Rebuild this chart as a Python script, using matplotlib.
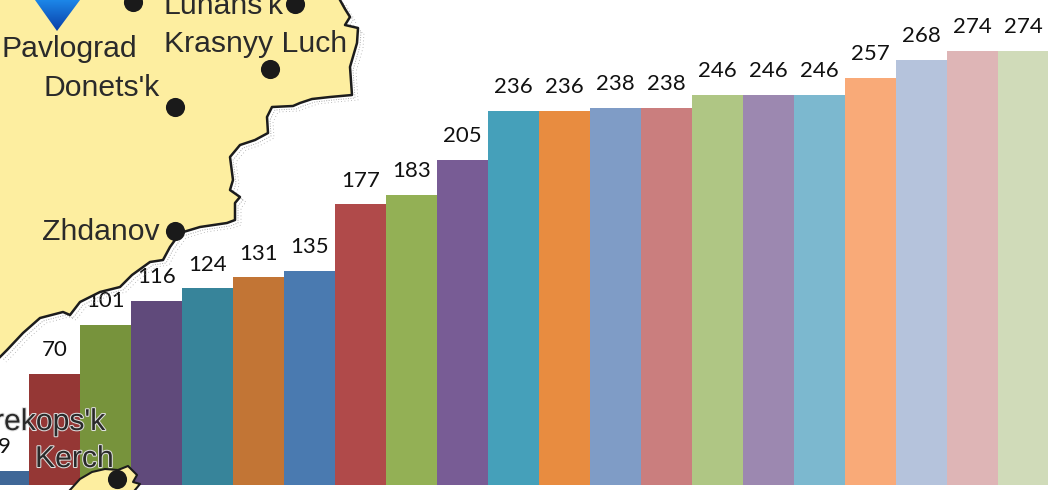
import matplotlib
matplotlib.use("Agg")
import matplotlib.pyplot as plt
import matplotlib.patheffects as pe
import numpy as np

# bar values, left to right
values = [9, 70, 101, 116, 124, 131, 135, 177, 183, 205, 236, 236, 238, 238,
          246, 246, 246, 257, 268, 274, 274]
colors = ["#3f6797", "#953735", "#77933c", "#604a7b", "#37849a", "#c27535", "#4a7ab0",
          "#b04a4a", "#93b055", "#785c95", "#45a0ba", "#e88c40", "#7f9cc6", "#ca7e7e",
          "#afc684", "#9c88b0", "#7cb8cf", "#f9aa78", "#b5c3dc", "#deb5b6", "#d0dbb9"]

# map background, in image pixels
coast_x = [340, 345, 350, 345, 358, 357, 350, 352, 330, 312, 300, 293, 272, 267, 268, 255, 240,
           230, 233, 230, 240, 235, 235, 227, 200, 180, 170, 163, 150, 132, 120, 100, 80, 70,
           63, 40, 23, 7, 0]
coast_y = [0, 9, 17, 25, 28, 43, 67, 95, 97, 99, 103, 106, 107, 117, 133, 140, 145,
           157, 180, 190, 197, 203, 220, 223, 227, 233, 247, 260, 262, 275, 287, 292, 302, 315,
           312, 318, 333, 350, 357]
kerch_x = [70, 80, 92, 105, 118, 128, 137, 133, 140, 135, 130, 70]
kerch_y = [490, 479, 472, 469, 470, 466, 475, 482, 484, 490, 490, 490]
city_x = [133, 295, 270, 175, 175, 117]
city_y = [2, 4, 69, 107, 231, 479]
city_names = ["Pavlograd", "Lunans'k", "Krasnyy Luch", "Donets'k", "Zhdanov"]
name_x = [2, 163, 164, 44, 42]
name_y = [57, 14, 52, 96, 240]

W, H = 1051, 490
px_per_unit = 1.585
base_y = 485
bar_px = 50.95
first_center = 4.0

fig = plt.figure(figsize=(W / 100, H / 100), dpi=100)

ax = fig.add_axes([0, 0, 1, 1])
x = np.arange(len(values))
ax.bar(x, values, width=1.0, color=colors)
for i, v in enumerate(values):
    ax.text(i, v + 15, str(v), ha="center", va="center", fontsize=16, family="Lato", color="#111111")
ax.set_xlim(-first_center / bar_px, (W - first_center) / bar_px)
ax.set_ylim(-(H - base_y) / px_per_unit, base_y / px_per_unit)
ax.axis("off")

# map sits over the chart, the sea is see through
m = fig.add_axes([0, 0, 1, 1])
m.patch.set_alpha(0)
m.set_xlim(0, W)
m.set_ylim(H, 0)
m.axis("off")
sea = "#a8a8a8"
m.plot(np.array(coast_x) + 3, np.array(coast_y) + 3, color=sea, lw=0.7, ls=(0, (1, 1.5)), zorder=1)
m.plot(np.array(coast_x) + 6, np.array(coast_y) + 5, color=sea, lw=0.6, ls=(0, (1, 3)), zorder=1)
m.fill(coast_x + [0], coast_y + [0], color="#fdeea0", zorder=2, lw=0)
m.plot(coast_x, coast_y, color="#1c1c1c", lw=1.8, zorder=3, solid_joinstyle="round")
m.fill(kerch_x, kerch_y, color="#fdeea0", zorder=2, lw=0)
m.plot(kerch_x[:-2], kerch_y[:-2], color="#1c1c1c", lw=1.5, zorder=3)

# blue pin at the top
grad = np.linspace(0, 1, 64).reshape(-1, 1)
cmap = matplotlib.colors.LinearSegmentedColormap.from_list("pin", ["#1c86e8", "#0a3fa8"])
im = m.imshow(grad, extent=[35, 80, 31, 0], cmap=cmap, aspect="auto", zorder=3)
pin = plt.Polygon([[35, 0], [80, 0], [57, 31]], transform=m.transData, fc="none", ec="none")
m.add_patch(pin)
im.set_clip_path(pin)
m.set_xlim(0, W)
m.set_ylim(H, 0)

m.scatter(city_x, city_y, s=190, color="#1a1a1a", zorder=4, lw=0)
for name, nx, ny in zip(city_names, name_x, name_y):
    m.text(nx, ny, name, ha="left", va="baseline", fontsize=21.7, family="Liberation Sans",
           color="#2a2a2a", zorder=5)

halo = [pe.withStroke(linewidth=1.5, foreground="#dddddd")]
m.text(105, 430, "Perekops'k", ha="right", va="baseline", fontsize=21.7, family="Liberation Sans",
       color="#2a2a2a", zorder=5, path_effects=halo)
m.text(35, 467, "Kerch", ha="left", va="baseline", fontsize=21.7, family="Liberation Sans",
       color="#2a2a2a", zorder=5, path_effects=halo)

fig.savefig("out.png", dpi=100)
